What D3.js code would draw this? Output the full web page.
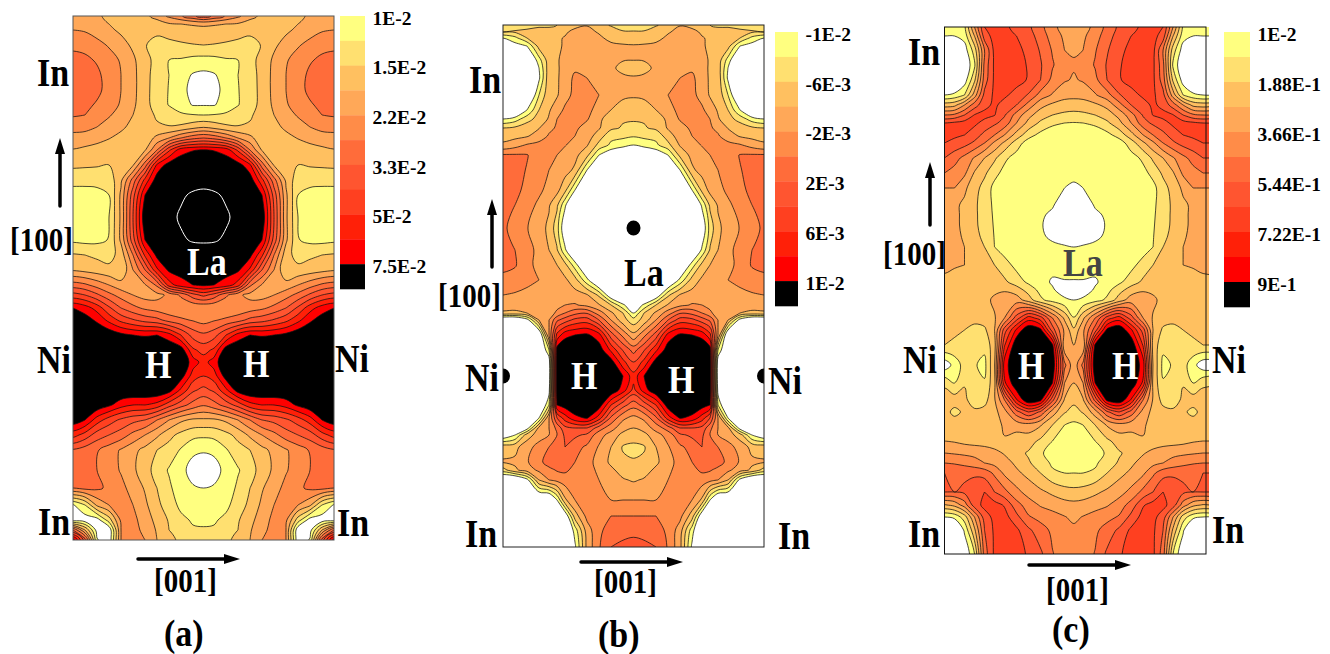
<!DOCTYPE html>
<html><head><meta charset="utf-8">
<style>html,body{margin:0;padding:0;background:#fff}svg{display:block}text{font-family:"Liberation Serif",serif;font-weight:bold}</style>
<script src="https://cdn.jsdelivr.net/npm/d3@7"></script></head><body><svg id="c" width="1330" height="654"></svg>
<script>
// band colours, lowest (just above white) to highest
const bandColors=["#ffff80","#ffe070","#ffc060","#ffa858","#ff8c48","#ff6c3a","#ff5530","#ff4020","#ff2008","#ff0000","#000000"];
const legendTicksA=["1E-2","1.5E-2","2.2E-2","3.3E-2","5E-2","7.5E-2"];
const legendTicksB=["-1E-2","-6E-3","-2E-3","2E-3","6E-3","1E-2"];
const legendTicksC=["1E-2","1.88E-1","3.66E-1","5.44E-1","7.22E-1","9E-1"];
// Contour fields, in band units, left half of each (symmetric) panel
const colsA=[0,12,24,36,48,60,72,84,96,108,120,130.5];
const rowsA=[16,24,30,45,60,75,90,105,115,127,138,150,165,180,195,217,240,255,270,285,295,308,320,335,350,362,375,390,405,420,435,450,470,488,505,520,530,540];
const gridA=[
[4.4,4.3,4.1,3.85,3.6,3.5,3.75,4.4,5.2,5.9,6.8,7.5],
[4.7,4.6,4.35,4,3.7,3.45,3.3,3.5,3.9,4,4.1,4.2],
[5,4.9,4.6,4.2,3.8,3.4,3.15,3.2,3.4,3.6,3.7,3.7],
[5.8,5.7,5.3,4.9,4.4,3.8,3.05,2.7,2.75,2.85,2.95,3],
[6.3,6.2,5.9,5.4,4.9,4.2,3.3,2.7,2,1.9,1.7,1.65],
[6.6,6.4,6.2,5.6,5,4.3,3.3,2.6,2,1.45,.9,.75],
[6.6,6.4,6.2,5.7,5,4.3,3.3,2.55,1.95,1.3,.7,.5],
[6.3,6.2,5.9,5.4,4.9,4.2,3.3,2.6,1.95,1.35,.95,.95],
[6.1,6,5.6,5.1,4.6,4,3.3,2.9,2.6,2.2,2.05,2],
[5.4,5.35,5,4.6,4.2,3.7,3.3,3.1,3.05,3.2,3.6,3.9],
[4.6,4.5,4.35,4.05,3.7,3.4,3.3,4.3,5,6,6.7,7],
[3.95,3.8,3.6,3.4,3.3,3.5,3.9,6,8.8,10.6,10.95,11.05],
[3.2,3.15,3.1,3,3.05,3.9,6.5,10.2,11.5,11.7,11.8,11.8],
[2.3,2.3,2.3,2.4,3.8,6.4,9.3,11.6,11.7,11.8,11.9,11.9],
[1.6,1.6,1.7,2,4.2,7.6,11,11.6,11.8,12.1,12.3,12.4],
[1.5,1.4,1.5,2,4.2,8,11.8,12,12,12.3,12.9,13],
[1.8,1.7,1.75,2.05,4.2,7.6,11,11.6,11.8,12.1,12.27,12.3],
[3.1,3,2.8,2.6,3.4,6,9.2,11.3,11.6,11.7,11.8,11.8],
[3.9,3.7,3.5,3.3,3.1,5,7,9.8,11.2,11.4,11.5,11.5],
[6.5,6.2,5.6,5,4.4,4,4.9,6.2,9.5,10.6,11,11.2],
[8.4,8,7.2,6.3,5.6,5,4.6,4.7,5.2,6.2,7.6,8.3],
[11,10.5,9.6,8.2,7,6.3,5.8,5.5,5.2,5.1,5,5],
[12,11.5,10.8,9.7,8.7,8.1,7.6,7.3,6.6,6.2,5.9,5.6],
[12,12,12,11.8,11.3,11,10.9,11,10.4,9,7.6,7.2],
[12,12,12,12,12,12,12,12,12,11.6,9.2,8.6],
[12,12,12,12,12,12,12,12,12,12,10.5,9.6],
[12,12,12,12,12,12,12,12,12,11.6,9.6,9.1],
[12,12,12,12,12,12,12,12,11.5,9.8,8.2,7.7],
[12,12,11.8,11.2,10.4,10,10,9.6,8.4,7.4,6.6,6.1],
[11.7,11,9.5,8.5,7.8,7.3,7,6,5,4.2,3.8,3.8],
[9.4,8.6,7.5,7,6.5,5.7,5,4.2,3.3,2.7,2.3,2.2],
[6.9,6.5,6.1,5.5,4.9,4.3,3.7,3,2.6,1.9,1.2,1.1],
[6.6,6.5,6,5.5,4.9,4.2,3.4,2.6,1.9,1.3,.6,.4],
[6,6.3,6.2,5.8,5.3,4.6,3.9,3,2.2,1.4,1.1,1],
[.9,2,4.2,5,5.2,5,4.2,3.3,2.4,1.8,1.5,1.4],
[.5,.4,.5,2.5,5.2,5.3,4.5,3.7,2.9,2.2,1.9,1.8],
[7,4,.6,.2,5,5.4,4.7,3.9,3,2.4,2.1,2.1],
[11.5,7.5,1.1,.2,5,5.5,5,4,3.4,2.7,2.5,2.5]];
const colsB=[0,12,24,36,46,54,62,72,84,96,108,120,130.5];
const rowsB=[25,32,38,46,60,68,78,95,110,119,128,136,145,155,170,190,205,228,250,265,280,295,305,313,320,335,350,362,376,390,405,418,428,435,447,462,470,480,500,516,530,547];
const gridB=[
[2.6,2.6,2.7,2.8,2.7,3,3.4,3.8,3.95,3.4,2.9,2.5,2.4],
[3,3.1,3.2,3.4,3.6,3.75,3.9,4.2,4.3,3.9,3.5,3.1,3.1],
[1,1.7,3,3.4,3.7,3.9,4.05,4.4,4.5,4.2,3.7,3.5,3.45],
[-1,.5,1,3.4,3.7,3.85,4.1,4.5,4.5,4.4,4.25,4.15,4.1],
[-1,-1,-1,1.6,3.6,3.9,4.3,4.6,4.6,4.5,4.3,4.05,4.02],
[-1,-1,-1,1,3.6,3.85,4.4,4.85,4.7,4.4,4.2,3.7,3.4],
[-1,-1,-1,.8,3.7,3.85,4.5,5.2,5,4.5,4.3,4.2,4.15],
[-1,-1,-1,2,3.75,3.9,4.6,5.3,5.4,5,4.4,4.15,4.1],
[-1,-1,1,3,3.9,4.5,5.2,5.5,5.3,4.6,4,3.65,3.55],
[1,1.5,2.6,3.4,4.1,5,5.5,5.4,5.1,4.2,3.5,3.1,3.15],
[3,3.2,3.6,3.95,4.8,5.1,5.4,5.2,4.6,4.1,3.2,2.9,2.6],
[3.6,3.7,3.9,4.5,5.1,5.3,5.3,5,4.5,3.5,2.3,2.2,2.1],
[4.2,4.6,5.1,5.3,5.3,5.3,5.05,4.7,4.1,2.7,1.8,1.5,1],
[6.1,6.1,6.05,5.5,5.3,5,4.7,4.3,3.3,1,0,-1,-1],
[6.3,6.3,5.95,5.4,5,4.7,4.4,3.8,1,-1,-1,-1,-1],
[6.3,6.2,5.8,5.2,4.7,4.3,3.3,1,-1,-1,-1,-1,-1],
[6.2,6,5.4,4.8,4.1,3.2,1.2,-1,-1,-1,-1,-1,-1],
[6.2,5.6,5.05,4.4,3.8,2.4,0,-1,-1,-1,-1,-1,-1],
[6.3,6,5.4,4.7,4,3.1,1.2,-1,-1,-1,-1,-1,-1],
[6.3,6.1,5.3,4.7,4.3,4,3.3,1.5,-1,-1,-1,-1,-1],
[5.7,5.5,5.3,5,4.6,4.5,4.2,3.4,1.3,-1,-1,-1,-1],
[5,4.9,4.7,4.6,4.7,4.6,4.7,4.4,4.1,2.8,0,-1,-1],
[4.6,4.6,4.4,4.3,4.5,4.7,5,5.1,4.7,4.1,3,1.2,0],
[3.8,3.7,4,4.2,4.5,5.2,6,6.7,6.9,5.5,4.2,3,1],
[-1,-1,.5,4,5,6.8,7.5,8.3,8.5,7,5,3.4,2.4],
[-1,-1,-1,-.5,5,9.3,10.7,11,11.2,10.4,7.5,5.7,4.3],
[-1,-1,-1,-1,2,11.5,11.9,11.9,11.9,11.6,9.8,7.9,6.6],
[-1,-1,-1,-1,.2,11.9,11.9,11.9,11.9,11.9,11.5,9.3,8],
[-1,-1,-1,-1,0,11.9,11.9,11.9,11.9,11.9,11.9,11,9.4],
[-1,-1,-1,-1,.5,11.9,11.9,11.9,11.9,11.9,11.9,10.5,8.7],
[-1,-1,-1,-1,2,11,11.5,11.9,11.9,11.6,9,7.4,6.4],
[-1,-1,-1,1,5,8,9.5,10.7,11.1,9.5,6.8,5.2,4.7],
[-1,-1,.5,4.3,5,6.3,7.7,8,8,6.5,5.4,4.4,4],
[0,1,3.5,4.5,5,6,7.2,7.2,6.8,5.4,4.6,3.7,3.6],
[3.6,3.7,4.6,5.4,6,6.5,7,6.4,5.8,4.9,4,2.9,2.7],
[4.1,4.2,4.9,5.7,6.5,6.8,6.7,6,5.4,4.6,3.8,3.2,3.1],
[2.6,3.8,4.5,5.2,5.7,6.1,6.2,5.7,5.4,4.8,4.2,3.6,3.5],
[-1,-1,.6,4,5,5.3,5.5,5.4,5.3,5,4.6,4.1,3.9],
[-1,-1,-1,-1,-1,1,3.8,5,5.2,5.1,5,5,5],
[-1,-1,-1,-1,-1,-1,0,3.5,5.3,5.7,6,6,6],
[-1,-1,-1,-1,-1,-1,-1,1.5,4.5,5.8,6.4,6.7,6.7],
[-1,-1,-1,-1,-1,-1,-1,.8,4.3,5.9,7,7.2,7.4]];
const colsC=[0,10,20,30,40,50,60,72,84,96,108,120,129.3];
const rowsC=[27,36,50,65,80,95,105,115,123,135,143,158,173,188,205,215,225,236,247,265,282,290,300,318,330,345,365,383,400,412,425,441,453,463,473,492,505,517,530,554];
const gridC=[
[1.6,1.6,1.8,5,8,8.3,8.2,7.7,7.2,6.3,5.3,4.55,4.4],
[1,1,1.4,4,7.5,8.4,8.4,8,7.5,6.5,5.6,4.8,4.7],
[-1,-1,.5,2.5,6,8.3,8.5,8.3,7.7,6.9,5.9,5,4.9],
[-1,-1,0,1.8,6.3,8.2,8.6,8.4,7.9,7.1,6.1,5.3,5.1],
[-1,-1,.5,2.8,6.5,8.2,8.6,8.4,7.9,7,5.7,5.1,4.9],
[1,1.3,2,4.5,7.3,8.2,8.2,7.6,6.9,5.6,4.9,4.4,4.3],
[3.5,3.7,5,6.5,7.7,8.2,7.6,7,5.6,4.3,3.8,3.5,3.5],
[6,6.2,7,8.05,8.3,8.05,7.1,5.6,4.3,3.5,3,2.8,2.7],
[8,8.2,8.4,8.2,7.7,7.2,6.6,5,3.7,2.8,2.2,2,1.95],
[8.3,8.2,8,7.5,6.7,6,5,3.6,2.4,1.7,1.4,1.2,1.2],
[8,7.7,7.4,6.8,6,4.8,3.8,2.5,1.5,1.3,1.3,1.2,1.2],
[7,6.4,5.7,4.9,4,3.2,2.2,1.6,1.4,1.3,1.3,1.3,1.3],
[6,5.6,5.2,3.9,3.2,2.3,1.7,1.4,1.3,1.3,1.3,1.3,1.3],
[5,5,4.2,3.4,2.6,1.7,1.4,1.3,1.3,1.25,1.15,1,.8],
[4.4,4.2,3.8,3.2,2.5,1.8,1.4,1.3,1.3,1.2,1.1,.4,.3],
[4.3,4.15,3.85,3.2,2.55,1.85,1.4,1.3,1.3,1.15,.8,.35,.25],
[4.3,4.1,3.9,3.2,2.6,1.9,1.4,1.3,1.3,1.1,.6,.3,.2],
[4.3,4.1,3.95,3.3,2.75,1.95,1.45,1.35,1.35,1.15,.8,.5,.4],
[4.3,4.1,4,3.5,3,2,1.5,1.4,1.4,1.3,1.2,1.1,1],
[4.3,4.1,4,3.7,3.4,3,2.4,1.7,1.4,1.3,1.25,1.3,1.3],
[3.7,3.6,3.4,3.3,3.4,3.3,3.2,2.5,1.8,1.3,.9,.95,.95],
[3.65,3.55,3.4,3.3,3.55,3.8,3.9,3.5,2.6,1.7,1.1,.6,.5],
[3.6,3.5,3.4,3.3,3.7,4.2,4.5,4.5,3.5,2.2,1.6,1.15,1],
[3.5,3.5,3.4,3.3,3.5,3.9,5,7.5,9.5,8.5,6,3.8,2.05],
[3.4,3.2,3,2.7,2.8,4,7.5,10.2,11.9,11.3,7.5,4.8,3.2],
[3,2.8,2.6,2.3,2.3,3.6,8.9,11.9,11.9,11.9,11.2,4.2,4],
[.3,1.4,2.4,2.1,1.7,3.9,10.6,11.9,11.9,11.9,11.9,6.3,4.3],
[2.8,2,2.9,2.1,2.1,3.7,9.8,11.9,11.9,11.9,11,5,4],
[3.5,3.5,3.3,2.3,2.6,3.9,6,9.9,11.9,11.3,7.3,3.9,3.3],
[3.4,2.7,3.2,3.3,3.4,3.7,4.6,6.6,8,6.8,4.5,3.1,2.6],
[3.7,3.6,3.5,3.4,3.4,3.5,4.2,4.4,4.6,4.1,3,2,1.8],
[4,3.9,3.7,3.6,3.5,3.4,3.9,3.5,3.4,2.8,2,1.4,1.3],
[5,4.9,4.8,4.7,4.6,4.3,3.9,3.3,2.9,2.2,1.4,1.2,1.2],
[6,5.9,5.7,5.4,5,4.7,4.4,3.8,3.1,2.6,1.8,1.4,1.4],
[7,6.9,6.8,6.8,6.6,5.8,4.8,4.2,3.7,3,2.2,2,2],
[7,7,7.2,7.7,8,7,6.3,5.3,4.6,4.2,3.8,3.4,3.3],
[3.9,4.3,5.5,7.5,8.3,8.4,7.9,6.4,5.5,4.9,4.6,4.4,4.3],
[1,1.3,2.5,5,7.5,8.3,8.4,7.3,6.1,5.7,5.4,5.05,4.8],
[-1,-1,1.2,3.8,7,8.2,8.5,8.2,7.2,6.4,5.8,5.3,5.2],
[-1,-1,0,2,6.5,8.2,8.5,8.3,7.9,7.2,6.05,5.5,5.4]];
// atom markers on top of the field [column offset, row]
const dotsB=[[130.5,228],[0,376]];

const svg=d3.select("#c");
let clipId=0;
function panel(o){
  const n=o.cols.length, half=o.cols[n-1];
  const rowsFull=o.grid.map(r=>{const m=r.concat(r.slice(0,-1).reverse());return [m[0],...m,m[m.length-1]];});
  const data=[rowsFull[0],...rowsFull,rowsFull[rowsFull.length-1]];
  const w=data[0].length,h=data.length;
  const xNodes=[...o.cols,...o.cols.slice(0,-1).reverse().map(c=>2*half-c)];
  const xPx=[o.left-30,...xNodes.map(c=>o.left+c),o.left+2*half+30];
  const yPx=[o.rows[0]-30,...o.rows,o.rows[o.rows.length-1]+30];
  const x=d3.scaleLinear().domain(d3.range(w).map(i=>i+.5)).range(xPx).clamp(true);
  const y=d3.scaleLinear().domain(d3.range(h).map(i=>i+.5)).range(yPx).clamp(true);
  const thresholds=d3.range(1,12).concat(o.ring?[o.ring]:[]);
  const contours=d3.contours().size([w,h]).smooth(true).thresholds(thresholds)(data.flat());
  const line=d3.line().curve(d3.curveCatmullRomClosed.alpha(.5));
  const ringPath=r=>line(r.slice(0,-1).map(p=>[x(p[0]),y(p[1])]));
  const id="clip"+(clipId++);
  svg.append("clipPath").attr("id",id).append("rect").attr("x",o.left).attr("y",o.rows[0]).attr("width",o.clipW).attr("height",o.rows[o.rows.length-1]-o.rows[0]);
  const g=svg.append("g").attr("clip-path",`url(#${id})`);
  g.selectAll("path").data(contours).join("path")
    .attr("d",c=>c.coordinates.map(poly=>poly.map(ringPath).join("")).join(""))
    .attr("fill-rule","evenodd")
    .attr("fill",(c,i)=>bandColors[Math.min(i,10)])
    .attr("stroke",(c,i)=>i==11?"#fff":"#111")
    .attr("stroke-width",(c,i)=>i==11?1:.75);
  if(o.dots) g.selectAll("ellipse").data(o.dots.flatMap(d=>d[0]===half?[d]:[d,[2*half-d[0],d[1]]])).join("ellipse")
    .attr("cx",d=>o.left+d[0]).attr("cy",d=>d[1]).attr("rx",7).attr("ry",7.5).attr("fill","#000");
  svg.append("rect").attr("x",o.left).attr("y",o.rows[0]).attr("width",o.frameW).attr("height",o.rows[o.rows.length-1]-o.rows[0])
    .attr("fill","none").attr("stroke",o.frame).attr("stroke-width",1);
  // legend
  const lb=d3.scaleBand().domain(bandColors).range([o.legend.y0,o.legend.y1]);
  svg.append("g").selectAll("rect").data(bandColors).join("rect").attr("x",o.legend.x).attr("width",o.legend.w)
    .attr("y",d=>lb(d)).attr("height",lb.bandwidth()+.3).attr("fill",d=>d);
  svg.append("g").selectAll("text").data(o.ticks).join("text").attr("x",o.legend.x+o.legend.w+7.5)
    .attr("y",(d,i)=>lb(bandColors[i*2])+8.8).attr("font-size",19.5).text(d=>d);
}
function label(t,x,y,size,fill,sy){
  svg.append("text").attr("transform",`translate(${x},${y}) scale(1,${sy||1.2})`).attr("font-size",size).attr("fill",fill||"#000").text(t);
}
function arrowUp(x,y0,y1){
  svg.append("line").attr("x1",x).attr("x2",x).attr("y1",y0).attr("y2",y1+10).attr("stroke","#000").attr("stroke-width",3.5).attr("stroke-linecap","round");
  svg.append("path").attr("d",`M${x-5},${y1+16}L${x},${y1}L${x+5},${y1+16}Z`).attr("fill","#000");
}
function arrowRight(x0,x1,y){
  svg.append("line").attr("x1",x0).attr("x2",x1-10).attr("y1",y).attr("y2",y).attr("stroke","#000").attr("stroke-width",3.5).attr("stroke-linecap","round");
  svg.append("path").attr("d",`M${x1-16},${y-5}L${x1},${y}L${x1-16},${y+5}Z`).attr("fill","#000");
}
panel({left:73,cols:colsA,rows:rowsA,grid:gridA,ring:12.2,clipW:261,frameW:261,frame:"#555",
  legend:{x:340,w:25,y0:16,y1:289},ticks:legendTicksA});
panel({left:503,cols:colsB,rows:rowsB,grid:gridB,dots:dotsB,clipW:261,frameW:261,frame:"#222",
  legend:{x:775,w:23,y0:32,y1:306},ticks:legendTicksB});
panel({left:944.5,cols:colsC,rows:rowsC,grid:gridC,clipW:264.5,frameW:261.5,frame:"#111",
  legend:{x:1224,w:26,y0:32,y1:307},ticks:legendTicksC});

[["In",37,86],["Ni",37,373],["In",38,535],["Ni",335,372],["In",337,536],
 ["In",469,93],["Ni",465,391],["Ni",768,394],["In",465,547],["In",778,549],["La",624,286],
 ["In",908,65],["Ni",903,373],["Ni",1212,373],["In",908,547],["In",1212,543]].forEach(d=>label(d[0],d[1],d[2],34));
[["H",145,378],["H",243,377],["La",187,275],["H",571,389],["H",668,393],["H",1018,379],["H",1112,379]].forEach(d=>label(d[0],d[1],d[2],34,"#fff"));
label("La",1063,276,34,"#444");
[["[100]",10,251],["[100]",438,307],["[100]",883,265],["[001]",154,592],["[001]",594,593],["[001]",1046,601]].forEach(d=>label(d[0],d[1],d[2],29,"#000",1.15));
[["(a)",164,646],["(b)",598,647],["(c)",1052,642]].forEach(d=>label(d[0],d[1],d[2],34,"#000",1.1));
arrowUp(60,206,138);arrowUp(492,267,199);arrowUp(930,225,162);
arrowRight(138,240,559);arrowRight(581,683,562);arrowRight(1029,1131,565);
</script></body></html>
